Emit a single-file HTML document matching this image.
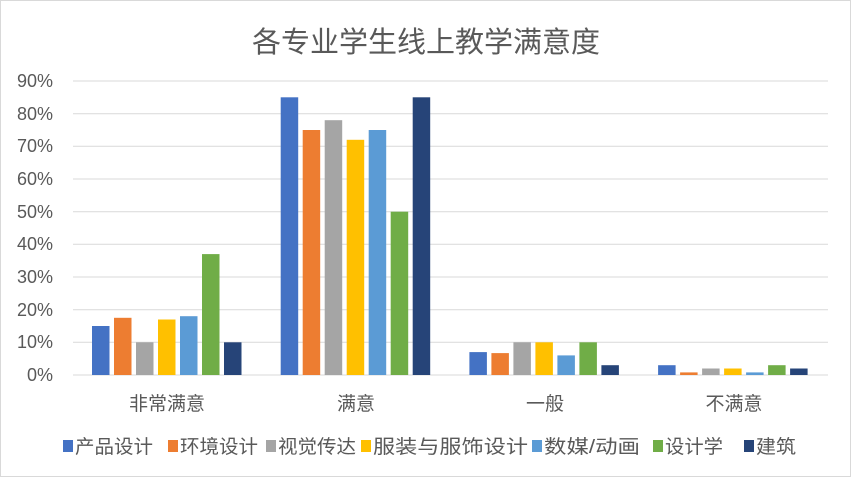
<!DOCTYPE html>
<html><head><meta charset="utf-8"><style>
body{margin:0;background:#fff}
text{font-family:"Liberation Sans","Noto Sans CJK SC",sans-serif;fill:#595959}
</style></head><body>
<svg width="851" height="477" xmlns="http://www.w3.org/2000/svg">
<rect x="0.5" y="0.5" width="850" height="476" fill="#fff" stroke="#d9d9d9"/>
<text x="426" y="52" font-size="29" text-anchor="middle">各专业学生线上教学满意度</text>
<g stroke="#d9d9d9" stroke-width="1">
<line x1="73" x2="828" y1="81" y2="81"/><line x1="73" x2="828" y1="113.7" y2="113.7"/>
<line x1="73" x2="828" y1="146.3" y2="146.3"/><line x1="73" x2="828" y1="179" y2="179"/>
<line x1="73" x2="828" y1="211.7" y2="211.7"/><line x1="73" x2="828" y1="244.3" y2="244.3"/>
<line x1="73" x2="828" y1="277" y2="277"/><line x1="73" x2="828" y1="309.7" y2="309.7"/>
<line x1="73" x2="828" y1="342.3" y2="342.3"/><line x1="73" x2="828" y1="375" y2="375"/>
</g>
<g font-size="18" text-anchor="end">
<text x="53" y="87">90%</text><text x="53" y="120">80%</text><text x="53" y="152">70%</text>
<text x="53" y="185">60%</text><text x="53" y="218">50%</text><text x="53" y="250">40%</text>
<text x="53" y="283">30%</text><text x="53" y="316">20%</text><text x="53" y="348">10%</text>
<text x="53" y="381">0%</text>
</g>
<g transform="translate(0,375) scale(1,-1)">
<rect x="92" y="0" width="17.5" height="49" fill="#4472c4"/>
<rect x="114" y="0" width="17.5" height="57.2" fill="#ed7d31"/>
<rect x="136" y="0" width="17.5" height="32.7" fill="#a5a5a5"/>
<rect x="158" y="0" width="17.5" height="55.5" fill="#ffc000"/>
<rect x="180" y="0" width="17.5" height="58.8" fill="#5b9bd5"/>
<rect x="202" y="0" width="17.5" height="120.9" fill="#70ad47"/>
<rect x="224" y="0" width="17.5" height="32.7" fill="#264478"/>
<rect x="280.7" y="0" width="17.5" height="277.7" fill="#4472c4"/>
<rect x="302.7" y="0" width="17.5" height="245" fill="#ed7d31"/>
<rect x="324.7" y="0" width="17.5" height="254.8" fill="#a5a5a5"/>
<rect x="346.7" y="0" width="17.5" height="235.2" fill="#ffc000"/>
<rect x="368.7" y="0" width="17.5" height="245" fill="#5b9bd5"/>
<rect x="390.7" y="0" width="17.5" height="163.3" fill="#70ad47"/>
<rect x="412.7" y="0" width="17.5" height="277.7" fill="#264478"/>
<rect x="469.4" y="0" width="17.5" height="22.9" fill="#4472c4"/>
<rect x="491.4" y="0" width="17.5" height="21.9" fill="#ed7d31"/>
<rect x="513.4" y="0" width="17.5" height="32.7" fill="#a5a5a5"/>
<rect x="535.4" y="0" width="17.5" height="32.7" fill="#ffc000"/>
<rect x="557.4" y="0" width="17.5" height="19.6" fill="#5b9bd5"/>
<rect x="579.4" y="0" width="17.5" height="32.7" fill="#70ad47"/>
<rect x="601.4" y="0" width="17.5" height="9.8" fill="#264478"/>
<rect x="658.1" y="0" width="17.5" height="9.8" fill="#4472c4"/>
<rect x="680.1" y="0" width="17.5" height="2.6" fill="#ed7d31"/>
<rect x="702.1" y="0" width="17.5" height="6.5" fill="#a5a5a5"/>
<rect x="724.1" y="0" width="17.5" height="6.5" fill="#ffc000"/>
<rect x="746.1" y="0" width="17.5" height="2.6" fill="#5b9bd5"/>
<rect x="768.1" y="0" width="17.5" height="9.8" fill="#70ad47"/>
<rect x="790.1" y="0" width="17.5" height="6.5" fill="#264478"/>
</g>
<g font-size="19" text-anchor="middle">
<text x="167" y="410">非常满意</text><text x="356" y="410">满意</text>
<text x="545" y="410">一般</text><text x="734" y="410">不满意</text>
</g>
<g font-size="19">
<rect x="63" y="440" width="10" height="12" fill="#4472c4"/><text x="75" y="453" textLength="78" lengthAdjust="spacingAndGlyphs">产品设计</text>
<rect x="168" y="440" width="10" height="12" fill="#ed7d31"/><text x="180" y="453" textLength="78" lengthAdjust="spacingAndGlyphs">环境设计</text>
<rect x="266" y="440" width="10" height="12" fill="#a5a5a5"/><text x="278" y="453" textLength="78" lengthAdjust="spacingAndGlyphs">视觉传达</text>
<rect x="361" y="440" width="10" height="12" fill="#ffc000"/><text x="373" y="453" textLength="155" lengthAdjust="spacingAndGlyphs">服装与服饰设计</text>
<rect x="532" y="440" width="10" height="12" fill="#5b9bd5"/><text x="544" y="453" textLength="96" lengthAdjust="spacingAndGlyphs">数媒/动画</text>
<rect x="653" y="440" width="10" height="12" fill="#70ad47"/><text x="665" y="453" textLength="58" lengthAdjust="spacingAndGlyphs">设计学</text>
<rect x="744" y="440" width="10" height="12" fill="#264478"/><text x="756" y="453" textLength="40" lengthAdjust="spacingAndGlyphs">建筑</text>
</g>
</svg>
</body></html>
